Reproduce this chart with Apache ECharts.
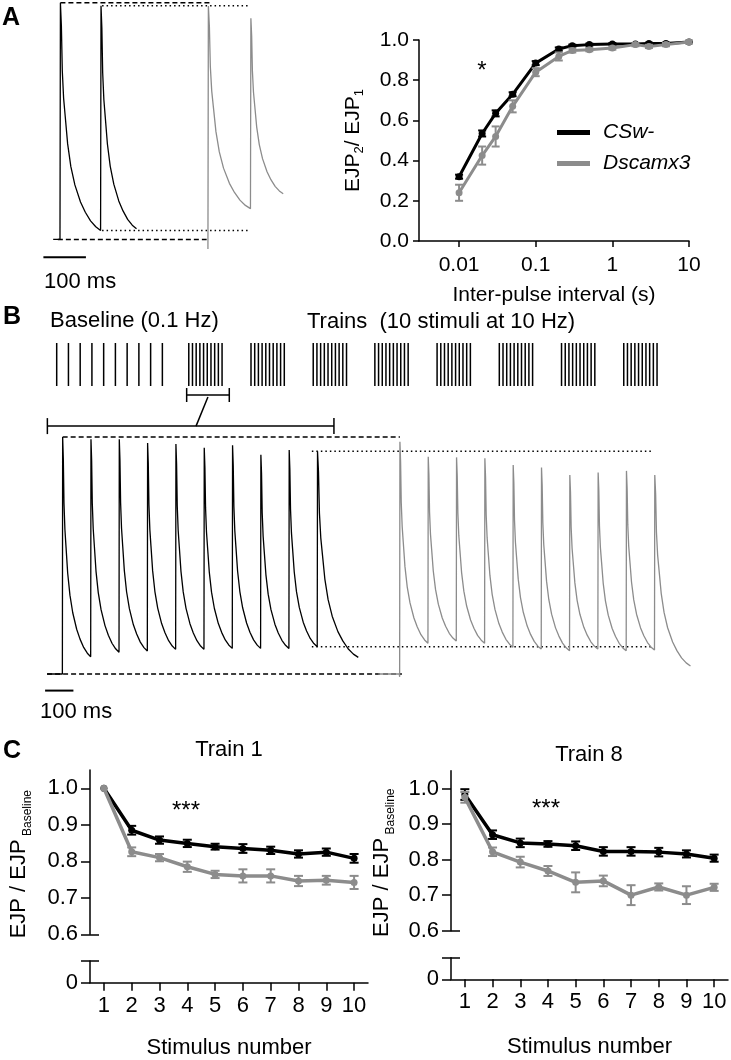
<!DOCTYPE html>
<html><head><meta charset="utf-8">
<script src="https://cdn.jsdelivr.net/npm/echarts@6/dist/echarts.min.js"></script>
<style>html,body{margin:0;padding:0;background:#fff}#c{width:731px;height:1060px}</style>
</head><body><div id="c"></div>
<script>
// ================= DATA =================
// Panel A (right): paired-pulse ratio vs inter-pulse interval
const IPI = [0.01, 0.02, 0.03, 0.05, 0.1, 0.2, 0.3, 0.5, 1, 2, 3, 5, 10];
const IPI_TICKS = [0.01, 0.1, 1, 10];
const PPR_CSW = [0.32, 0.535, 0.635, 0.73, 0.885, 0.955, 0.972, 0.977, 0.98, 0.98, 0.982, 0.982, 0.99];
const PPR_CSW_ERR = [0.01, 0.015, 0.015, 0.01, 0.01, 0.008, 0.005, 0.005, 0.005, 0.005, 0.005, 0.005, 0.005];
const PPR_DSC = [0.24, 0.425, 0.52, 0.67, 0.84, 0.918, 0.948, 0.952, 0.96, 0.977, 0.968, 0.977, 0.99];
const PPR_DSC_ERR = [0.04, 0.045, 0.05, 0.03, 0.02, 0.02, 0.01, 0.008, 0.008, 0.008, 0.008, 0.008, 0.008];
const PPR_TICKS = [0, 0.2, 0.4, 0.6, 0.8, 1.0];

// Panel C: normalised EJP per stimulus number
const STIM = ['1', '2', '3', '4', '5', '6', '7', '8', '9', '10'];
const C_TICKS = [0.6, 0.7, 0.8, 0.9, 1.0];
const T1_CSW = [1.0, 0.885, 0.858, 0.849, 0.84, 0.835, 0.83, 0.82, 0.825, 0.808];
const T1_CSW_ERR = [0, 0.012, 0.01, 0.01, 0.008, 0.012, 0.01, 0.01, 0.01, 0.012];
const T1_DSC = [1.0, 0.826, 0.81, 0.785, 0.764, 0.76, 0.76, 0.746, 0.748, 0.742];
const T1_DSC_ERR = [0, 0.012, 0.01, 0.014, 0.01, 0.018, 0.018, 0.014, 0.012, 0.018];
const T8_CSW = [0.983, 0.870, 0.847, 0.844, 0.839, 0.823, 0.823, 0.821, 0.816, 0.804];
const T8_CSW_ERR = [0.015, 0.012, 0.012, 0.008, 0.012, 0.012, 0.012, 0.012, 0.01, 0.01];
const T8_DSC = [0.975, 0.822, 0.793, 0.768, 0.736, 0.74, 0.70, 0.723, 0.70, 0.722];
const T8_DSC_ERR = [0.015, 0.012, 0.015, 0.014, 0.028, 0.015, 0.028, 0.01, 0.025, 0.01];

// EJP traces (time in ms, amplitude normalised to first CSw- EJP)
const RISE_MS = 1;
const DECAY_S = [0, 0.024, 0.047, 0.08, 0.12, 0.18, 0.26, 0.36, 0.5, 0.62, 0.75, 0.88, 1];   // fraction of decay period
const DECAY_V = [1, 0.9, 0.7, 0.58, 0.5, 0.38, 0.28, 0.2, 0.125, 0.08, 0.042, 0.016, 0];     // fraction of peak-trough
// Panel A traces (paired pulses)
const A_CSW_PRE = [[-17, 0], [-1, 0]];
const A_CSW_PEAK_T = [0, 95.5];
const A_CSW_PEAK_V = [1.0, 0.987];
const A_CSW_TROUGH_V = [0.038, 0.045];
const A_CSW_END_T = 179;
const A_DSC_PRE = [[347, -0.04]];
const A_DSC_PEAK_T = [348, 448];
const A_DSC_PEAK_V = [0.986, 0.934];
const A_DSC_TROUGH_V = [0.13, 0.193];
const A_DSC_END_T = 524;
const A_DASH_SPAN = [0, 352], A_BASE_SPAN = [-6, 344], A_DOT_SPAN = [98, 446];
const A_SCALE = [-40, 60, -0.075];
// Panel B traces (train 1, 10 stimuli at 10 Hz)
const B_CSW_PRE = [[-55, 0], [-1, 0]];
const B_CSW_PEAK_T = [0, 100, 200, 300, 400, 500, 600, 700, 800, 900];
const B_CSW_PEAK_V = [1.0, 0.99, 0.99, 0.975, 0.97, 0.955, 0.965, 0.925, 0.945, 0.94];
const B_CSW_TROUGH_V = [0.073, 0.092, 0.097, 0.104, 0.104, 0.108, 0.108, 0.108, 0.115, 0.07];
const B_CSW_END_T = 1044;
const B_DSC_PRE = [[1115, 0], [1189, 0], [1190, -0.012]];
const B_DSC_PEAK_T = [1191, 1291, 1391, 1491, 1591, 1691, 1791, 1891, 1991, 2091];
const B_DSC_PEAK_V = [0.98, 0.917, 0.914, 0.910, 0.882, 0.871, 0.840, 0.850, 0.857, 0.840];
const B_DSC_TROUGH_V = [0.130, 0.139, 0.130, 0.113, 0.105, 0.098, 0.105, 0.098, 0.101, 0.034];
const B_DSC_END_T = 2217;
const B_DASH_SPAN = [0, 1191], B_BASE_SPAN = [-55, 1198], B_DOT_SPAN = [880, 2085];
const B_SCALE = [-62, 38, -0.07];
const B_LONG_BRACKET = [-54, 958, 1.046];
const B_CONNECTOR = [[513, 1.169], [471, 1.046]];
// Panel B stimulation protocol (schematic units: 1 = 10 s baseline interval)
const BASE_STIM = [0, 1, 2, 3, 4, 5, 6, 7, 8, 9];
const TRAIN_START = [11.25, 16.55, 21.85, 27.1, 32.4, 37.7, 43.0, 48.3];
const TRAIN_N = 10, TRAIN_STEP = 0.315;
const SHORT_BRACKET = [11.07, 14.7, -0.21];

// ================= HELPERS =================
const FONT = '"Liberation Sans", Arial, Helvetica, sans-serif';
const BLACK = '#000', GRAY = '#8c8c8c';
function buildTrace(pre, peakT, peakV, troughV, endT) {
  const pts = pre.map(p => p.slice());
  for (let k = 0; k < peakT.length; k++) {
    const t0 = peakT[k];
    const t1 = k < peakT.length - 1 ? peakT[k + 1] - RISE_MS : endT;
    const P = peakV[k], T = troughV[k];
    pts.push([t0, P]);
    for (let j = 1; j < DECAY_S.length; j++) pts.push([t0 + DECAY_S[j] * (t1 - t0), T + (P - T) * DECAY_V[j]]);
  }
  return pts;
}
function traceSeries(xi, data, color) {
  return { type: 'line', xAxisIndex: xi, yAxisIndex: xi, data, symbol: 'none', clip: false, silent: true,
    lineStyle: { color, width: 1.3 }, z: 3 };
}
function hline(xi, span, y, dash, w) {
  return { type: 'line', xAxisIndex: xi, yAxisIndex: xi, data: [[span[0], y], [span[1], y]], symbol: 'none', clip: false,
    silent: true, lineStyle: { color: BLACK, width: w || 1.5, type: dash }, z: 2 };
}
function errSeries(xi, yi, xs, vals, errs, color, cap, z) {
  const data = [];
  vals.forEach((v, i) => { if (errs[i] > 0) data.push([xs[i], v - errs[i], v + errs[i]]); });
  return { type: 'custom', xAxisIndex: xi, yAxisIndex: yi, data, z, silent: true,
    renderItem(p, api) {
      const a = api.coord([api.value(0), api.value(1)]), b = api.coord([api.value(0), api.value(2)]);
      const st = { stroke: color, lineWidth: 2 };
      return { type: 'group', children: [
        { type: 'line', shape: { x1: a[0], y1: a[1], x2: b[0], y2: b[1] }, style: st },
        { type: 'line', shape: { x1: a[0] - cap, y1: a[1], x2: a[0] + cap, y2: a[1] }, style: st },
        { type: 'line', shape: { x1: b[0] - cap, y1: b[1], x2: b[0] + cap, y2: b[1] }, style: st } ] };
    } };
}
function bracketSeries(xi, br, half) {
  return { type: 'custom', xAxisIndex: xi, yAxisIndex: xi, data: [br], silent: true, clip: false,
    renderItem(p, api) {
      const a = api.coord([api.value(0), api.value(2)]), b = api.coord([api.value(1), api.value(2)]);
      const st = { stroke: BLACK, lineWidth: 1.5 };
      return { type: 'group', children: [
        { type: 'line', shape: { x1: a[0], y1: a[1], x2: b[0], y2: b[1] }, style: st },
        { type: 'line', shape: { x1: a[0], y1: a[1] - half, x2: a[0], y2: a[1] + half }, style: st },
        { type: 'line', shape: { x1: b[0], y1: b[1] - half, x2: b[0], y2: b[1] + half }, style: st } ] };
    } };
}
const AX_LINE = { show: true, lineStyle: { color: BLACK, width: 1.5 } };
const AX_TICK_ST = { color: BLACK, width: 1.5 };
function hiddenX(g, min, max) { return { gridIndex: g, type: 'value', min, max, show: false }; }
function hiddenY(g, min, max) { return { gridIndex: g, type: 'value', min, max, show: false }; }
function cUpperY(g, gap) {
  return { gridIndex: g, type: 'value', min: 0.6, max: 1.05,
    axisLine: AX_LINE, splitLine: { show: false },
    axisTick: { show: true, length: 9, customValues: C_TICKS, lineStyle: AX_TICK_ST },
    axisLabel: { customValues: C_TICKS, formatter: v => v.toFixed(1), fontSize: 22, color: BLACK, fontFamily: FONT, margin: 12 },
    name: '{m|EJP / EJP}{s| Baseline}', nameLocation: 'middle', nameGap: gap, nameRotate: 90,
    nameTextStyle: { color: BLACK, padding: [0, 24, 0, 0], rich: {
      m: { fontSize: 22, lineHeight: 30, fontFamily: FONT, color: BLACK },
      s: { fontSize: 12, lineHeight: 13, verticalAlign: 'bottom', fontFamily: FONT, color: BLACK } } } };
}
function cLowerY(g) {
  return { gridIndex: g, type: 'value', min: 0, max: 0.06,
    axisLine: AX_LINE, splitLine: { show: false },
    axisTick: { show: true, length: 9, customValues: [0, 0.06], lineStyle: AX_TICK_ST },
    axisLabel: { customValues: [0], formatter: () => '0', fontSize: 22, color: BLACK, fontFamily: FONT, margin: 12 } };
}
function innerTickY(g, min, max, val) {
  return { gridIndex: g, type: 'value', min, max, position: 'left', axisLine: { show: false }, splitLine: { show: false },
    axisTick: { show: true, inside: true, length: 9, customValues: [val], lineStyle: AX_TICK_ST }, axisLabel: { show: false } };
}
function cUpperX(g) { return { gridIndex: g, type: 'category', data: STIM, show: false, boundaryGap: true }; }
function cLowerX(g, gap) {
  return { gridIndex: g, type: 'category', data: STIM, boundaryGap: true, axisLine: AX_LINE,
    axisTick: { show: true, alignWithLabel: true, length: 8, lineStyle: AX_TICK_ST },
    axisLabel: { fontSize: 22, color: BLACK, fontFamily: FONT, margin: 12, interval: 0 },
    name: 'Stimulus number', nameLocation: 'middle', nameGap: gap,
    nameTextStyle: { fontSize: 22, color: BLACK, fontFamily: FONT } };
}
function cSeries(xi, csw, cswE, dsc, dscE) {
  const idx = STIM.map((s, i) => i);
  return [
    { name: 'CSw-', type: 'line', xAxisIndex: xi, yAxisIndex: xi, data: csw, symbol: 'circle', symbolSize: 7,
      itemStyle: { color: BLACK }, lineStyle: { color: BLACK, width: 3.5 }, z: 4, silent: true },
    errSeries(xi, xi, idx, csw, cswE, BLACK, 4.5, 4),
    { name: 'Dscamx3', type: 'line', xAxisIndex: xi, yAxisIndex: xi, data: dsc, symbol: 'circle', symbolSize: 7,
      itemStyle: { color: GRAY }, lineStyle: { color: GRAY, width: 3.5 }, z: 5, silent: true },
    errSeries(xi, xi, idx, dsc, dscE, GRAY, 4.5, 5)
  ];
}
function txt(x, y, text, size, opt) {
  opt = opt || {};
  return { type: 'text', x, y, silent: true, style: { text, fontSize: size, fontFamily: FONT, fontWeight: opt.bold ? 'bold' : 'normal',
    fill: BLACK, align: opt.align || 'left', verticalAlign: 'middle', textAlign: opt.align || 'left', textVerticalAlign: 'middle' } };
}

// stimulation positions
const STIM_POS = BASE_STIM.slice();
TRAIN_START.forEach(s => { for (let i = 0; i < TRAIN_N; i++) STIM_POS.push(s + i * TRAIN_STEP); });

// ================= OPTION =================
const option = {
  animation: false,
  textStyle: { fontFamily: FONT },
  grid: [
    { left: 40, top: 2.7, width: 250, height: 260.4 },      // 0 A traces
    { left: 419, top: 40, width: 270, height: 201 },         // 1 A PPR
    { left: 44.96, top: 343, width: 610.5, height: 43 },     // 2 B protocol
    { left: 40, top: 413.3, width: 670, height: 284.4 },     // 3 B traces
    { left: 90, top: 770, width: 278, height: 164.3 },       // 4 C train1 upper
    { left: 90, top: 961, width: 278, height: 21.7 },        // 5 C train1 lower
    { left: 451, top: 770.7, width: 277, height: 160 },      // 6 C train8 upper
    { left: 451, top: 957.7, width: 277, height: 21.6 }      // 7 C train8 lower
  ],
  xAxis: [
    hiddenX(0, -48, 540),
    { gridIndex: 1, type: 'log', logBase: 10, min: 0.003, max: 10, axisLine: AX_LINE, splitLine: { show: false },
      minorTick: { show: false },
      axisTick: { show: true, length: 6, customValues: IPI_TICKS, lineStyle: AX_TICK_ST },
      axisLabel: { customValues: IPI_TICKS, formatter: v => String(+(+v).toPrecision(2)), fontSize: 21, color: BLACK, fontFamily: FONT, margin: 14 },
      name: 'Inter-pulse interval (s)', nameLocation: 'middle', nameGap: 44,
      nameTextStyle: { fontSize: 21, color: BLACK, fontFamily: FONT } },
    hiddenX(2, -1, 51),
    hiddenX(3, -80, 2286),
    cUpperX(4), cLowerX(5, 54), cUpperX(6), cLowerX(7, 57)
  ],
  yAxis: [
    hiddenY(0, -0.1, 1.0),
    { gridIndex: 1, type: 'value', min: 0, max: 1, axisLine: AX_LINE, splitLine: { show: false },
      axisTick: { show: true, length: 6, customValues: PPR_TICKS, lineStyle: AX_TICK_ST },
      axisLabel: { customValues: PPR_TICKS, formatter: v => v.toFixed(1), fontSize: 21, color: BLACK, fontFamily: FONT, margin: 10 },
      name: '{m|EJP}{s|2}{m|/ EJP}{s|1}', nameLocation: 'middle', nameGap: 53, nameRotate: 90,
      nameTextStyle: { color: BLACK, rich: {
        m: { fontSize: 21, lineHeight: 26, fontFamily: FONT, color: BLACK },
        s: { fontSize: 13, lineHeight: 14, verticalAlign: 'bottom', fontFamily: FONT, color: BLACK } } } },
    hiddenY(2, 0, 1),
    hiddenY(3, -0.1, 1.1),
    cUpperY(4, 56), cLowerY(5), cUpperY(6, 54), cLowerY(7),
    innerTickY(4, 0.6, 1.05, 0.6), innerTickY(5, 0, 0.06, 0.06),
    innerTickY(6, 0.6, 1.05, 0.6), innerTickY(7, 0, 0.06, 0.06)
  ],
  legend: { data: ['CSw-', 'Dscamx3'], orient: 'vertical', left: 552, top: 117, icon: 'rect', itemWidth: 33, itemHeight: 5,
    itemGap: 10, selectedMode: false,
    textStyle: { fontSize: 21, fontStyle: 'italic', color: BLACK, fontFamily: FONT, padding: [0, 0, 0, 8] } },
  series: [
    // ---- A traces ----
    traceSeries(0, buildTrace(A_CSW_PRE, A_CSW_PEAK_T, A_CSW_PEAK_V, A_CSW_TROUGH_V, A_CSW_END_T), BLACK),
    traceSeries(0, buildTrace(A_DSC_PRE, A_DSC_PEAK_T, A_DSC_PEAK_V, A_DSC_TROUGH_V, A_DSC_END_T), GRAY),
    hline(0, A_DASH_SPAN, A_CSW_PEAK_V[0], [5, 3]),
    hline(0, A_BASE_SPAN, 0, [5, 3]),
    hline(0, A_DOT_SPAN, A_CSW_PEAK_V[1], [1.5, 3]),
    hline(0, A_DOT_SPAN, A_CSW_TROUGH_V[0], [1.5, 3]),
    hline(0, [A_SCALE[0], A_SCALE[1]], A_SCALE[2], 'solid', 2),
    // ---- A PPR ----
    { name: 'CSw-', type: 'line', xAxisIndex: 1, yAxisIndex: 1, data: IPI.map((x, i) => [x, PPR_CSW[i]]),
      symbol: 'circle', symbolSize: 7, itemStyle: { color: BLACK }, lineStyle: { color: BLACK, width: 3 }, z: 4, silent: true },
    errSeries(1, 1, IPI, PPR_CSW, PPR_CSW_ERR, BLACK, 4, 4),
    { name: 'Dscamx3', type: 'line', xAxisIndex: 1, yAxisIndex: 1, data: IPI.map((x, i) => [x, PPR_DSC[i]]),
      symbol: 'circle', symbolSize: 7, itemStyle: { color: GRAY }, lineStyle: { color: GRAY, width: 3 }, z: 5, silent: true },
    errSeries(1, 1, IPI, PPR_DSC, PPR_DSC_ERR, GRAY, 4, 5),
    // ---- B protocol ----
    { type: 'custom', xAxisIndex: 2, yAxisIndex: 2, data: STIM_POS.map(x => [x]), silent: true, clip: false,
      renderItem(p, api) {
        const a = api.coord([api.value(0), 0]), b = api.coord([api.value(0), 1]);
        return { type: 'line', shape: { x1: a[0], y1: a[1], x2: b[0], y2: b[1] }, style: { stroke: BLACK, lineWidth: 1.5 } };
      } },
    bracketSeries(2, SHORT_BRACKET, 7),
    // ---- B traces ----
    traceSeries(3, buildTrace(B_CSW_PRE, B_CSW_PEAK_T, B_CSW_PEAK_V, B_CSW_TROUGH_V, B_CSW_END_T), BLACK),
    traceSeries(3, buildTrace(B_DSC_PRE, B_DSC_PEAK_T, B_DSC_PEAK_V, B_DSC_TROUGH_V, B_DSC_END_T), GRAY),
    hline(3, B_DASH_SPAN, B_CSW_PEAK_V[0], [5, 3]),
    hline(3, B_BASE_SPAN, 0, [5, 3]),
    hline(3, B_DOT_SPAN, B_CSW_PEAK_V[9], [1.5, 3]),
    hline(3, B_DOT_SPAN, B_CSW_TROUGH_V[8], [1.5, 3]),
    hline(3, [B_SCALE[0], B_SCALE[1]], B_SCALE[2], 'solid', 2),
    bracketSeries(3, B_LONG_BRACKET, 8),
    { type: 'line', xAxisIndex: 3, yAxisIndex: 3, data: B_CONNECTOR, symbol: 'none', clip: false, silent: true,
      lineStyle: { color: BLACK, width: 1.5 } },
    // ---- C ----
    ...cSeries(4, T1_CSW, T1_CSW_ERR, T1_DSC, T1_DSC_ERR),
    ...cSeries(6, T8_CSW, T8_CSW_ERR, T8_DSC, T8_DSC_ERR)
  ],
  graphic: [
    txt(2, 18, 'A', 25, { bold: true }),
    txt(3, 317, 'B', 25, { bold: true }),
    txt(3, 751, 'C', 25, { bold: true }),
    txt(482, 71, '*', 24, { align: 'center' }),
    txt(186, 811, '***', 24, { align: 'center' }),
    txt(546, 809, '***', 24, { align: 'center' }),
    txt(44, 282, '100 ms', 22),
    txt(40, 712, '100 ms', 22),
    txt(50, 321, 'Baseline (0.1 Hz)', 22),
    txt(307, 322, 'Trains  (10 stimuli at 10 Hz)', 22),
    txt(229, 750, 'Train 1', 22, { align: 'center' }),
    txt(589, 755, 'Train 8', 22, { align: 'center' })
  ]
};
const chart = echarts.init(document.getElementById('c'), null, { renderer: 'canvas' });
chart.setOption(option);
</script></body></html>
